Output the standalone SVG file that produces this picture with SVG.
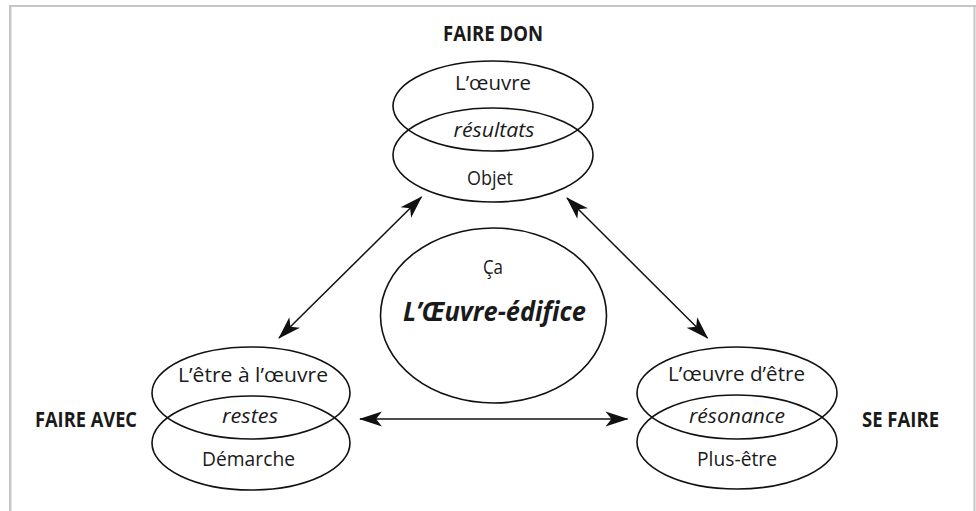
<svg xmlns="http://www.w3.org/2000/svg" width="976" height="511" viewBox="0 0 976 511">
<style>
text{font-family:"Open Sans","Noto Sans","Liberation Sans",sans-serif;font-size:20.5px;fill:#1a1a1a;text-anchor:middle}
.b{font-weight:bold}
.i{font-style:italic}
.bi{font-weight:bold;font-style:italic;font-size:26px}
.e{fill:none;stroke:#111;stroke-width:1.6}
.c{fill:none;stroke:#111;stroke-width:1.5}
.frame{stroke:#c6c6c6;fill:none}
</style>
<defs>
<marker id="ah" markerUnits="userSpaceOnUse" markerWidth="30" markerHeight="20" viewBox="-25 -10 30 20" refX="0" refY="0" orient="auto-start-reverse">
<path d="M1,0 L-22,-7.5 L-16,0 L-22,7.5 Z" fill="#111"/>
</marker>
</defs>
<rect width="976" height="511" fill="#fff"/>
<g id="frame">
<line class="frame" x1="9" y1="6" x2="976" y2="6" stroke-width="2"/>
<line class="frame" x1="10.2" y1="5" x2="10.2" y2="511" stroke-width="2.5"/>
<line class="frame" x1="974.5" y1="5" x2="974.5" y2="511" stroke-width="2"/>
</g>
<g id="connectors">
<line class="c" x1="279" y1="338" x2="421.5" y2="197" marker-start="url(#ah)" marker-end="url(#ah)"/>
<line class="c" x1="567" y1="198" x2="707.5" y2="338" marker-start="url(#ah)" marker-end="url(#ah)"/>
<line class="c" x1="360" y1="419" x2="627.5" y2="419" marker-start="url(#ah)" marker-end="url(#ah)"/>
</g>
<g id="faire-don">
<text class="b" x="493" y="41" textLength="100" lengthAdjust="spacingAndGlyphs">FAIRE DON</text>
<ellipse class="e" cx="493" cy="106" rx="100" ry="45"/>
<ellipse class="e" cx="493" cy="155" rx="100" ry="47"/>
<text x="493" y="90" textLength="76" lengthAdjust="spacingAndGlyphs">L’œuvre</text>
<text class="i" x="494" y="137" textLength="81" lengthAdjust="spacingAndGlyphs">résultats</text>
<text x="490" y="185" textLength="46" lengthAdjust="spacingAndGlyphs">Objet</text>
</g>
<g id="oeuvre-edifice">
<ellipse class="e" cx="493.5" cy="315.5" rx="113" ry="87.5"/>
<text x="493" y="274" textLength="20" lengthAdjust="spacingAndGlyphs">Ça</text>
<text class="bi" x="494.5" y="321" textLength="183" lengthAdjust="spacingAndGlyphs">L’Œuvre-édifice</text>
</g>
<g id="faire-avec">
<text class="b" x="86" y="427" textLength="102" lengthAdjust="spacingAndGlyphs">FAIRE AVEC</text>
<ellipse class="e" cx="251" cy="393" rx="99" ry="46"/>
<ellipse class="e" cx="251" cy="443" rx="99" ry="47"/>
<text x="253" y="382" textLength="150" lengthAdjust="spacingAndGlyphs">L’être à l’œuvre</text>
<text class="i" x="250" y="423" textLength="56" lengthAdjust="spacingAndGlyphs">restes</text>
<text x="248.5" y="466" textLength="93" lengthAdjust="spacingAndGlyphs">Démarche</text>
</g>
<g id="se-faire">
<text class="b" x="900.5" y="427" textLength="77" lengthAdjust="spacingAndGlyphs">SE FAIRE</text>
<ellipse class="e" cx="737" cy="393" rx="100" ry="46"/>
<ellipse class="e" cx="737" cy="442" rx="100" ry="47"/>
<text x="736.5" y="381" textLength="137" lengthAdjust="spacingAndGlyphs">L’œuvre d’être</text>
<text class="i" x="737" y="423" textLength="96" lengthAdjust="spacingAndGlyphs">résonance</text>
<text x="737" y="466" textLength="80" lengthAdjust="spacingAndGlyphs">Plus-être</text>
</g>
</svg>
